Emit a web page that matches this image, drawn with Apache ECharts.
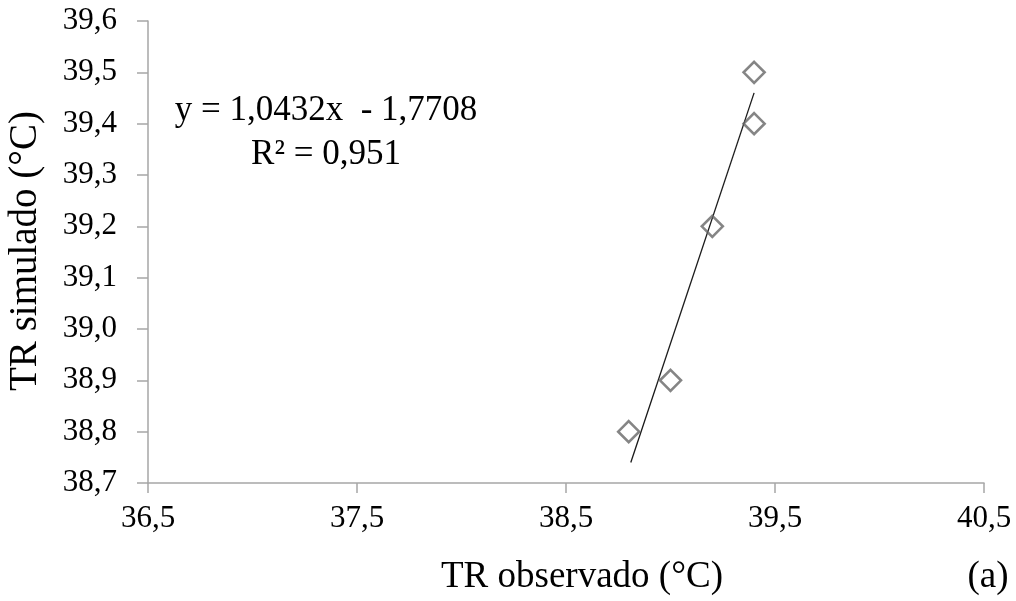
<!DOCTYPE html>
<html>
<head>
<meta charset="utf-8">
<title>TR observado x TR simulado</title>
<script src="https://cdn.jsdelivr.net/npm/echarts@6/dist/echarts.min.js"></script>
<style>
  html, body { margin: 0; padding: 0; background: #ffffff; }
  #chart { width: 1016px; height: 601px; }
</style>
</head>
<body>
<div id="chart"></div>
<script>
// Observed vs simulated rectal temperature (°C)
const observed  = [38.8, 39.0, 39.2, 39.4, 39.4];
const simulated = [38.8, 38.9, 39.2, 39.4, 39.5];

// Fitted trend line, drawn between its two end points
const trendX = [38.81, 39.40];
const trendY = [38.74, 39.46];

// Axis ticks
const xTickLabels = ['36,5', '37,5', '38,5', '39,5', '40,5'];
const yTickLabels = ['38,7', '38,8', '38,9', '39,0', '39,1', '39,2', '39,3', '39,4', '39,5', '39,6'];
const xMin = 36.5, xMax = 40.5, xStep = 1;
const yMin = 38.7, yMax = 39.6, yStep = 0.1;

// Regression annotation
const equationText = 'y = 1,0432x  - 1,7708';
const r2Text = 'R² = 0,951';
const xTitle = 'TR observado (°C)';
const yTitle = 'TR simulado (°C)';
const panelTag = '(a)';

const FONT = '"Liberation Serif", "Times New Roman", serif';
const AXIS_GREY = '#a6a6a6';
const TEXT = '#000000';

const chart = echarts.init(document.getElementById('chart'), null, { renderer: 'canvas' });

const pointData = observed.map((x, i) => [x, simulated[i]]);
const trendData = trendX.map((x, i) => [x, trendY[i]]);

chart.setOption({
  animation: false,
  backgroundColor: '#ffffff',
  grid: { left: 148, top: 21, right: 32, bottom: 118, containLabel: false },
  xAxis: {
    type: 'value',
    min: xMin, max: xMax, interval: xStep,
    axisLine: { show: true, onZero: false, lineStyle: { color: AXIS_GREY, width: 1.5 } },
    axisTick: { show: true, inside: false, length: 10, lineStyle: { color: AXIS_GREY, width: 1.5 } },
    splitLine: { show: false },
    axisLabel: {
      margin: 20,
      color: TEXT, fontFamily: FONT, fontSize: 31,
      formatter: v => xTickLabels[Math.round((v - xMin) / xStep)]
    }
  },
  yAxis: {
    type: 'value',
    min: yMin, max: yMax, interval: yStep,
    axisLine: { show: true, onZero: false, lineStyle: { color: AXIS_GREY, width: 1.5 } },
    axisTick: { show: true, inside: false, length: 11, lineStyle: { color: AXIS_GREY, width: 1.5 } },
    splitLine: { show: false },
    axisLabel: {
      margin: 31,
      color: TEXT, fontFamily: FONT, fontSize: 31,
      formatter: v => yTickLabels[Math.round((v - yMin) / yStep)]
    }
  },
  series: [
    {
      type: 'line',
      data: trendData,
      symbol: 'none',
      lineStyle: { color: '#1a1a1a', width: 1.3 },
      z: 2
    },
    {
      type: 'scatter',
      data: pointData,
      symbol: 'diamond',
      symbolSize: 21,
      itemStyle: { color: 'rgba(255,255,255,0)', borderColor: '#666666', borderWidth: 2.6 },
      z: 3
    }
  ],
  graphic: [
    {
      type: 'text',
      style: { text: equationText, x: 326, y: 111, align: 'center', verticalAlign: 'middle',
               font: '35px ' + FONT, fill: TEXT }
    },
    {
      type: 'text',
      style: { text: r2Text, x: 326, y: 155, align: 'center', verticalAlign: 'middle',
               font: '35px ' + FONT, fill: TEXT }
    },
    {
      type: 'text',
      style: { text: xTitle, x: 582, y: 577, align: 'center', verticalAlign: 'middle',
               font: '37px ' + FONT, fill: TEXT }
    },
    {
      type: 'text',
      style: { text: panelTag, x: 988, y: 577, align: 'center', verticalAlign: 'middle',
               font: '37px ' + FONT, fill: TEXT }
    },
    {
      type: 'text',
      rotation: Math.PI / 2,
      x: 26, y: 251,
      style: { text: yTitle, x: 0, y: 0, align: 'center', verticalAlign: 'middle',
               font: '39px ' + FONT, fill: TEXT }
    }
  ]
});
</script>
</body>
</html>
